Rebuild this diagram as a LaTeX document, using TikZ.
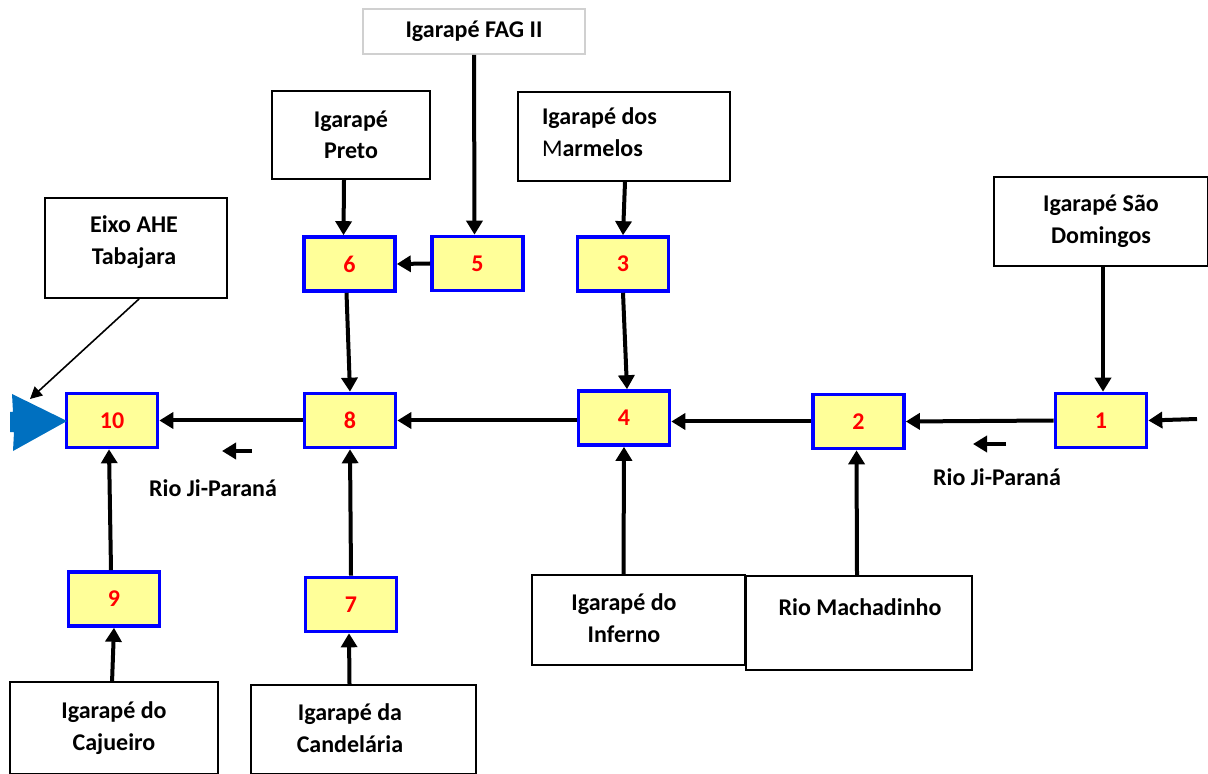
\documentclass[tikz,border=0pt]{standalone}
\usepackage{fontspec}
\setmainfont{Carlito}
\usetikzlibrary{arrows.meta}
\definecolor{boxyellow}{HTML}{FFFF99}
\definecolor{triblue}{HTML}{0070C0}
\definecolor{lightgrey}{HTML}{D0D0D0}
\begin{document}
\begin{tikzpicture}[x=0.5pt,y=-0.5pt,
  every node/.style={font=\fontsize{12}{15.8}\selectfont\bfseries},
  tbox/.style={draw=black,line width=0.9pt,fill=white,inner sep=0pt,align=center},
  ybox/.style={draw=blue,line width=1.8pt,fill=boxyellow,inner sep=0pt,text=red,minimum width=45.5pt,minimum height=27pt},
  flow/.style={line width=2pt,-{Triangle[length=7pt,width=8pt]}},
  thin/.style={line width=0.8pt,-{Triangle[length=6pt,width=6pt]}}]
\useasboundingbox (0,0) rectangle (1208,774);
% text boxes
\node[tbox,draw=lightgrey,minimum width=111pt,minimum height=22.5pt] (fag) at (474,31.5) {Igarapé FAG II};
\node[tbox,minimum width=79pt,minimum height=44pt] (preto) at (351,135) {Igarapé\\Preto};
\node[tbox,minimum width=106pt,minimum height=44.5pt] (marm) at (624,136.5) {};
\node[anchor=west,align=left] (marmt) at (535,132) {Igarapé dos\\{\mdseries M}armelos};
\node[tbox,minimum width=91pt,minimum height=50pt] (eixo) at (136,248) {};
\node[align=center] (eixot) at (134,242) {Eixo AHE\\Tabajara};
\node[tbox,minimum width=107pt,minimum height=44.5pt] (sao) at (1101,221.5) {Igarapé São\\Domingos};
\node[tbox,minimum width=106.5pt,minimum height=45pt] (inf) at (638.5,620) {};
\node[align=center] (inft) at (624,618) {Igarapé do\\Inferno};
\node[tbox,minimum width=113pt,minimum height=47pt] (mach) at (859,623) {};
\node (macht) at (860,607) {Rio Machadinho};
\node[tbox,minimum width=104pt,minimum height=46pt] (caj) at (114,728) {Igarapé do\\Cajueiro};
\node[tbox,minimum width=112.5pt,minimum height=44.5pt] (cand) at (363.5,729.5) {};
\node[align=center] (candt) at (350,728) {Igarapé da\\Candelária};
% yellow boxes
\node[ybox] (n6) at (349.5,264) {6};
\node[ybox] (n5) at (477.5,263.5) {5};
\node[ybox] (n3) at (623,264) {3};
\node[ybox] (n10) at (112,420.5) {10};
\node[ybox] (n8) at (350,420.5) {8};
\node[ybox] (n4) at (624,418) {4};
\node[ybox] (n2) at (858.5,421.5) {2};
\node[ybox] (n1) at (1101,420.5) {1};
\node[ybox] (n9) at (114,599) {9};
\node[ybox] (n7) at (351,604.5) {7};
% outlet triangle
\fill[triblue] (12,394) -- (67,421) -- (13,451) -- (14,432) -- (10,432) -- (10,412) -- (13,412) -- cycle;
\coordinate (tri) at (30,399);
\coordinate (inR) at (1197,419);
\coordinate (a1s) at (252,451);
\coordinate (a1e) at (222,451);
\coordinate (a2s) at (1006,444);
\coordinate (a2e) at (973,444);
% connectors
\draw[thin] (eixo.south west) ++(95,0) -- (tri);
\draw[flow] (inR) -- (n1.east);
\draw[flow] (sao.south) ++(2,0) -- ([xshift=1pt]n1.north);
\draw[flow] (n1.west) -- (n2.east);
\draw[flow] (mach.north) ++(-2,0) -- ([xshift=-1pt]n2.south);
\draw[flow] (n2.west) -- (n4.east |- n2.west);
\draw[flow] (inf.north) ++(-15,0) -- (n4.south);
\draw[flow] (n3.south) -- ([xshift=1.5pt]n4.north);
\draw[flow] (marm.south) ++(1,0) -- (n3.north);
\draw[flow] (n4.west |- n8.east) -- (n8.east);
\draw[flow] (n8.west) -- (n10.east);
\draw[flow] ([xshift=-1.5pt]n6.south) -- (n8.north);
\draw[flow] (n7.north) -- (n8.south);
\draw[flow] (n5.west) -- (n6.east);
\draw[flow] (fag.south) -- ([xshift=-1.5pt]n5.north);
\draw[flow] (preto.south) ++(-7,0) -- ([xshift=-3pt]n6.north);
\draw[flow] (n9.north) ++(-3,0) -- ([xshift=-1.5pt]n10.south);
\draw[flow] (caj.south) ++(-2,-92) -- (n9.south);
\draw[flow] (cand.north) ++(-14,0) -- ([xshift=-1pt]n7.south);
\draw[flow] (a1s) -- (a1e);
\draw[flow] (a2s) -- (a2e);
% river labels
\node (rj1) at (213,488) {Rio Ji-Paraná};
\node (rj2) at (997,477) {Rio Ji-Paraná};
\end{tikzpicture}
\end{document}
